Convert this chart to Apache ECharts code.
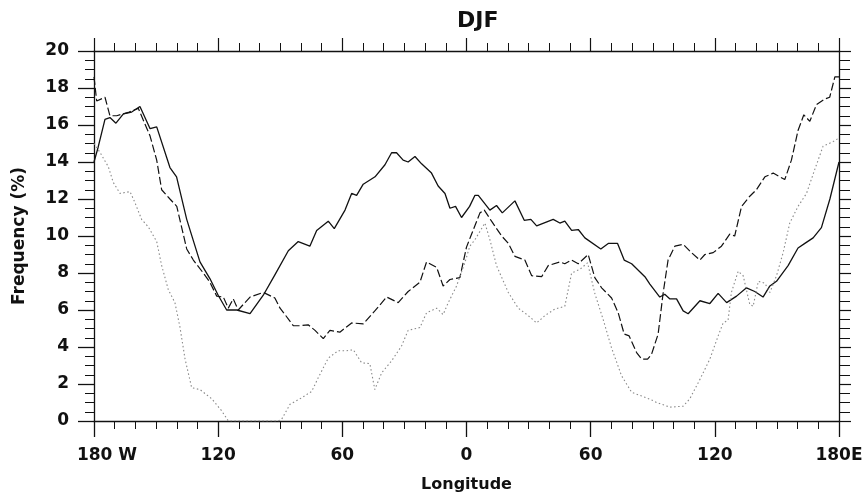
<!DOCTYPE html>
<html>
<head>
<meta charset="utf-8">
<title>DJF</title>
<script src="https://cdn.jsdelivr.net/npm/echarts@6/dist/echarts.min.js"></script>
<style>
html,body{margin:0;padding:0;background:#fff;}
#main{width:867px;height:498px;}
</style>
</head>
<body>
<div id="main"></div>
<script>
// 实线
var solidLon=[-180,-178,-174.7,-172.3,-169.4,-165.8,-161.8,-157.8,-152.9,-149.7,-143.3,-140.1,-135.2,-128.8,-124,-120,-115.9,-111,-104.6,-98.2,-92.6,-86.1,-81.3,-75.7,-72.4,-66.8,-63.9,-58.7,-55.5,-53.1,-49.9,-44.2,-39.4,-36.2,-33.8,-30.6,-28.2,-24.9,-21.7,-16.9,-13.7,-10.4,-8,-5.3,-2.4,1.5,4.1,5.7,11.3,14.5,17.3,23.4,27.9,31.1,33.9,41.9,45.1,47.5,50.8,54,57.2,64.9,68.5,73,76.2,79.8,86.2,88.6,93.4,95.8,98.3,101.5,104.7,107.1,112.8,117.6,121.6,125.7,130.5,135.3,139.3,143.3,146.6,149.8,155.4,160.2,163.5,167.5,171.5,175.6,180];
var solidVal=[14.0,14.8,16.3,16.4,16.1,16.6,16.7,17.0,15.8,15.9,13.7,13.2,10.9,8.6,7.7,6.8,6.0,6.0,5.8,6.8,7.9,9.2,9.7,9.45,10.3,10.8,10.4,11.4,12.3,12.2,12.8,13.2,13.85,14.5,14.5,14.1,14.0,14.3,13.9,13.4,12.7,12.3,11.5,11.6,11.0,11.6,12.2,12.2,11.4,11.65,11.25,11.9,10.85,10.9,10.55,10.9,10.7,10.8,10.3,10.35,9.9,9.3,9.6,9.6,8.7,8.5,7.8,7.4,6.7,6.85,6.6,6.6,5.95,5.8,6.5,6.35,6.9,6.4,6.75,7.2,7.0,6.7,7.3,7.55,8.4,9.35,9.6,9.9,10.45,12.0,14.0];

// 虚线
var dashLon=[-180,-178.7,-174.7,-172.3,-169,-163,-158.6,-152.9,-149.7,-147.3,-143.3,-140,-135.2,-132,-127.2,-124,-120.7,-117.5,-115.1,-112.7,-110.3,-104.6,-98.2,-92.6,-90.1,-87.7,-83.7,-80.5,-76.5,-73.2,-69.2,-66,-61.2,-55.5,-49.9,-44.3,-38.6,-33,-28.2,-22.5,-19.3,-14.4,-11.3,-8,-3.2,0,2.1,6.5,8.6,12.1,17,20.2,23.4,28.2,31.5,36.3,39.5,45.1,47.5,50.8,54,58.8,62,65.3,70.1,73.3,76.2,78.6,82.2,84.6,87.5,89.4,92.6,95,97.4,100.7,104.7,108.7,112.8,115.2,119.2,123.2,127.2,129.6,132.9,136.9,140.1,144.2,148.2,153.8,157,160.2,163,165.9,169.1,173.1,175.5,178,180];
var dashVal=[18.6,17.3,17.5,16.5,16.5,16.7,16.9,15.4,14.1,12.5,12.0,11.6,9.3,8.7,8.0,7.5,6.75,6.7,6.1,6.6,6.0,6.7,6.95,6.65,6.1,5.75,5.15,5.15,5.2,4.9,4.45,4.9,4.8,5.3,5.25,5.95,6.7,6.4,7.0,7.5,8.6,8.3,7.3,7.65,7.75,9.4,10.0,11.25,11.4,10.8,10.0,9.6,8.9,8.7,7.85,7.8,8.4,8.6,8.5,8.7,8.5,9.0,7.75,7.2,6.65,5.85,4.7,4.6,3.7,3.35,3.35,3.6,4.7,6.9,8.7,9.45,9.55,9.1,8.7,9.0,9.1,9.45,10.1,10.0,11.6,12.15,12.5,13.2,13.4,13.05,14.1,15.7,16.55,16.2,17.1,17.4,17.5,18.6,18.6];

// 点线
var dotLon=[-180,-177,-173.1,-170.7,-167.4,-162.6,-160.2,-157,-153.8,-149.7,-147.3,-144.1,-140.9,-138.5,-136,-132.8,-128.8,-123.1,-118.3,-115.1,-91,-89.3,-85.3,-79.7,-74.8,-71.6,-66.8,-62,-58,-54.7,-50.7,-46.7,-44.3,-41,-36.2,-31.4,-28.2,-22.5,-19.3,-14.4,-11.3,-8.8,-4.8,-0.8,1.6,4.1,8.9,11.3,14.5,20.2,25,29.8,33.9,37.9,42.7,47.5,50.8,54.8,58.5,62,66,70.1,74.9,79.8,84.6,90.2,91.8,98.3,104.7,107.9,112.8,117.6,121.6,124,126.4,128,131.3,133.7,136.9,138.5,141,144.2,146.6,149.8,153,156.2,160.2,164.3,168.3,172.3,177.1,180];
var dotVal=[15.0,14.5,13.75,12.9,12.3,12.4,11.8,10.9,10.5,9.7,8.4,7.1,6.4,5.1,3.35,1.8,1.7,1.2,0.55,0.0,0.0,0.1,0.9,1.25,1.6,2.35,3.4,3.8,3.8,3.85,3.15,3.1,1.7,2.6,3.25,4.05,4.9,5.05,5.85,6.1,5.75,6.4,7.3,8.55,9.45,9.8,10.7,9.8,8.4,6.95,6.1,5.7,5.3,5.7,6.05,6.2,8.0,8.2,8.55,6.9,5.5,3.95,2.45,1.55,1.35,1.1,1.0,0.75,0.8,1.2,2.25,3.35,4.6,5.3,5.45,6.95,8.1,7.85,6.3,6.2,7.55,7.45,6.95,7.85,9.1,10.7,11.6,12.3,13.6,14.85,15.1,15.3];

// 刻度
var lonTicks={'-180':'{w|180 W}','-120':'120','-60':'60','0':'0','60':'60','120':'120','180':'180E'};

function pairs(lon,val){
	var arr=[];
	for(var i=0;i<lon.length;i++){
		arr.push([lon[i],val[i]]);
	}
	return arr;
}

var fontF='"DejaVu Sans", sans-serif';
var black='#111';

var myChart=echarts.init(document.getElementById('main'));
var option={
	animation:false,
	backgroundColor:'#fff',
	title:{
		text:'DJF',
		left:452,
		top:5,
		textStyle:{fontFamily:fontF,fontWeight:'bold',fontSize:22,color:black}
	},
	grid:{left:94,right:28,top:51,bottom:76},
	xAxis:[{
		type:'value',min:-180,max:180,interval:60,
		position:'bottom',
		name:'Longitude',nameLocation:'middle',nameGap:56,
		nameTextStyle:{fontFamily:fontF,fontWeight:'bold',fontSize:16,color:black},
		axisLine:{show:true,onZero:false,lineStyle:{color:black,width:1.3}},
		axisTick:{show:true,inside:false,length:16,lineStyle:{color:black,width:1.3}},
		minorTick:{show:true,splitNumber:6,length:8,lineStyle:{color:black,width:1}},
		splitLine:{show:false},
		axisLabel:{
			margin:26,fontFamily:fontF,fontWeight:'bold',fontSize:17,color:black,
			formatter:function(v){return lonTicks[String(v)];},
			rich:{w:{fontFamily:fontF,fontWeight:'bold',fontSize:17,color:black,padding:[0,0,0,26]}}
		}
	},{
		type:'value',min:-180,max:180,interval:60,
		position:'top',
		axisLine:{show:true,onZero:false,lineStyle:{color:black,width:1.3}},
		axisTick:{show:true,inside:false,length:13,lineStyle:{color:black,width:1.2}},
		minorTick:{show:true,splitNumber:6,length:8,lineStyle:{color:black,width:1}},
		splitLine:{show:false},
		axisLabel:{show:false}
	}],
	yAxis:[{
		type:'value',min:0,max:20,interval:2,
		position:'left',
		name:'Frequency (%)',nameLocation:'middle',nameGap:66,
		nameTextStyle:{fontFamily:fontF,fontWeight:'bold',fontSize:17,color:black},
		axisLine:{show:true,onZero:false,lineStyle:{color:black,width:1.3}},
		axisTick:{show:true,inside:false,length:16,lineStyle:{color:black,width:1.3}},
		minorTick:{show:true,splitNumber:4,length:9,lineStyle:{color:black,width:1}},
		splitLine:{show:false},
		axisLabel:{margin:25,fontFamily:fontF,fontWeight:'bold',fontSize:17,color:black}
	},{
		type:'value',min:0,max:20,interval:2,
		position:'right',
		axisLine:{show:true,onZero:false,lineStyle:{color:black,width:1.3}},
		axisTick:{show:true,inside:false,length:12,lineStyle:{color:black,width:1.2}},
		minorTick:{show:true,splitNumber:4,length:11,lineStyle:{color:black,width:1}},
		splitLine:{show:false},
		axisLabel:{show:false}
	}],
	series:[{
		type:'line',name:'solid',
		data:pairs(solidLon,solidVal),
		showSymbol:false,
		lineStyle:{color:black,width:1.3,type:'solid'}
	},{
		type:'line',name:'dashed',
		data:pairs(dashLon,dashVal),
		showSymbol:false,
		lineStyle:{color:black,width:1.2,type:[8,3]}
	},{
		type:'line',name:'dotted',
		data:pairs(dotLon,dotVal),
		showSymbol:false,
		lineStyle:{color:'#888',width:1.1,type:[1.5,2.5]}
	}]
};
myChart.setOption(option);
</script>
</body>
</html>
